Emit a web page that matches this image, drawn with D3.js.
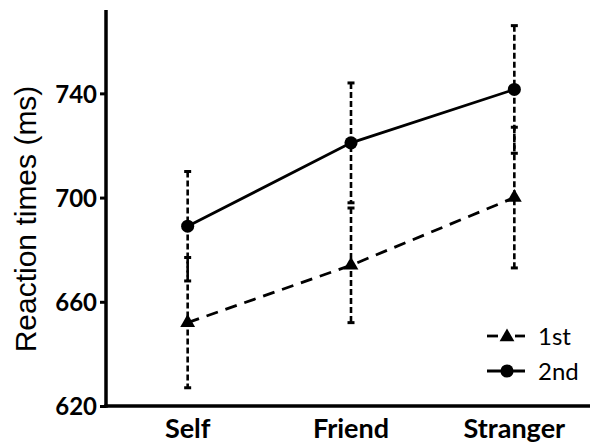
<!DOCTYPE html>
<html>
<head>
<meta charset="utf-8">
<script src="https://cdn.jsdelivr.net/npm/d3@7"></script>
<style>
  html, body { margin: 0; padding: 0; background: #fff; }
  svg { display: block; }
</style>
</head>
<body>
<div id="chart"></div>
<script>
// Reaction times per condition, two sessions, mean ± error
const categories = ["Self", "Friend", "Stranger"];
const firstMeans = [652, 674, 700];
const firstErrors = [25, 22, 27];
const secondMeans = [689, 721, 741.5];
const secondErrors = [21, 23, 24.5];
const yTicks = [620, 660, 700, 740];
const seriesNames = ["1st", "2nd"];

const width = 590, height = 445;
const margin = { left: 106, top: 10, bottom: 39 };
const plotBottom = height - margin.bottom;

const svg = d3.select("#chart").append("svg")
  .attr("width", width).attr("height", height);

const x = d3.scalePoint()
  .domain(categories)
  .range([margin.left, 596])
  .padding(0.5);

const y = d3.scaleLinear()
  .domain([620, 772])
  .range([plotBottom, margin.top]);

const series = [
  { name: seriesNames[0], means: firstMeans, errors: firstErrors, dash: "12,8", marker: "triangle" },
  { name: seriesNames[1], means: secondMeans, errors: secondErrors, dash: null, marker: "circle" }
];

// Error bars (dashed stems with caps)
const errG = svg.append("g");
series.forEach(s => {
  categories.forEach((c, i) => {
    const lo = s.means[i] - s.errors[i], hi = s.means[i] + s.errors[i];
    errG.append("line")
      .attr("x1", x(c)).attr("x2", x(c))
      .attr("y1", y(hi)).attr("y2", y(lo))
      .attr("stroke", "#000").attr("stroke-width", 2.6)
      .attr("stroke-dasharray", "6,3");
    [hi, lo].forEach(v => {
      errG.append("line")
        .attr("x1", x(c) - 3.5).attr("x2", x(c) + 3.5)
        .attr("y1", y(v)).attr("y2", y(v))
        .attr("stroke", "#000").attr("stroke-width", 3);
    });
  });
});

// Mean lines
const line = d3.line().x(d => x(d.c)).y(d => y(d.v));
series.forEach(s => {
  const pts = categories.map((c, i) => ({ c, v: s.means[i] }));
  svg.append("path")
    .datum(pts)
    .attr("d", line)
    .attr("fill", "none")
    .attr("stroke", "#000")
    .attr("stroke-width", 2.8)
    .attr("stroke-dasharray", s.dash);
});

// Markers
const triSym = d3.symbol().type(d3.symbolTriangle).size(95);
const circSym = d3.symbol().type(d3.symbolCircle).size(135);
series.forEach(s => {
  categories.forEach((c, i) => {
    svg.append("path")
      .attr("d", s.marker === "triangle" ? triSym() : circSym())
      .attr("transform", `translate(${x(c)},${y(s.means[i])})`)
      .attr("fill", "#000");
  });
});

// Axes
const yAxis = d3.axisLeft(y).tickValues(yTicks).tickSize(6).tickFormat(d3.format("d"));
const gy = svg.append("g")
  .attr("transform", `translate(${margin.left},0)`)
  .call(yAxis);
gy.select(".domain").remove();
gy.selectAll(".tick line").attr("stroke", "#000").attr("stroke-width", 3);
gy.selectAll(".tick text")
  .attr("x", -9)
  .attr("dy", "0.36em")
  .attr("fill", "#000")
  .style("font-family", "Lato, 'Open Sans', sans-serif")
  .style("font-weight", "bold")
  .style("font-size", "24px");

svg.append("line")
  .attr("x1", margin.left).attr("x2", margin.left)
  .attr("y1", margin.top).attr("y2", plotBottom + 1.75)
  .attr("stroke", "#000").attr("stroke-width", 3.5);
svg.append("line")
  .attr("x1", margin.left - 1.75).attr("x2", width)
  .attr("y1", plotBottom).attr("y2", plotBottom)
  .attr("stroke", "#000").attr("stroke-width", 3.5);

// Category labels
svg.append("g").selectAll("text")
  .data(categories)
  .join("text")
  .attr("x", d => x(d))
  .attr("y", 438)
  .attr("text-anchor", "middle")
  .style("font-family", "Lato, 'Open Sans', sans-serif")
  .style("font-weight", "bold")
  .style("font-size", "27px")
  .text(d => d);

// Y-axis title
svg.append("text")
  .attr("transform", "translate(36,219) rotate(-90)")
  .attr("text-anchor", "middle")
  .style("font-family", "'Liberation Sans', Arial, sans-serif")
  .style("font-size", "30px")
  .text("Reaction times (ms)");

// Legend
const legend = svg.append("g");
const legendRows = [
  { name: seriesNames[0], marker: "triangle", dy: 336 },
  { name: seriesNames[1], marker: "circle", dy: 371 }
];
legendRows.forEach(r => {
  if (r.marker === "triangle") {
    legend.append("line").attr("x1", 487).attr("x2", 498).attr("y1", r.dy).attr("y2", r.dy)
      .attr("stroke", "#000").attr("stroke-width", 2.8);
    legend.append("line").attr("x1", 515).attr("x2", 525).attr("y1", r.dy).attr("y2", r.dy)
      .attr("stroke", "#000").attr("stroke-width", 2.8);
    legend.append("path").attr("d", triSym()).attr("transform", `translate(507,${r.dy + 1})`);
  } else {
    legend.append("line").attr("x1", 487).attr("x2", 525).attr("y1", r.dy).attr("y2", r.dy)
      .attr("stroke", "#000").attr("stroke-width", 2.8);
    legend.append("path").attr("d", circSym()).attr("transform", `translate(507,${r.dy})`);
  }
  legend.append("text")
    .attr("x", 538).attr("y", r.dy + 9)
    .style("font-family", "Lato, 'Open Sans', sans-serif")
    .style("font-size", "24px")
    .text(r.name);
});
</script>
</body>
</html>
